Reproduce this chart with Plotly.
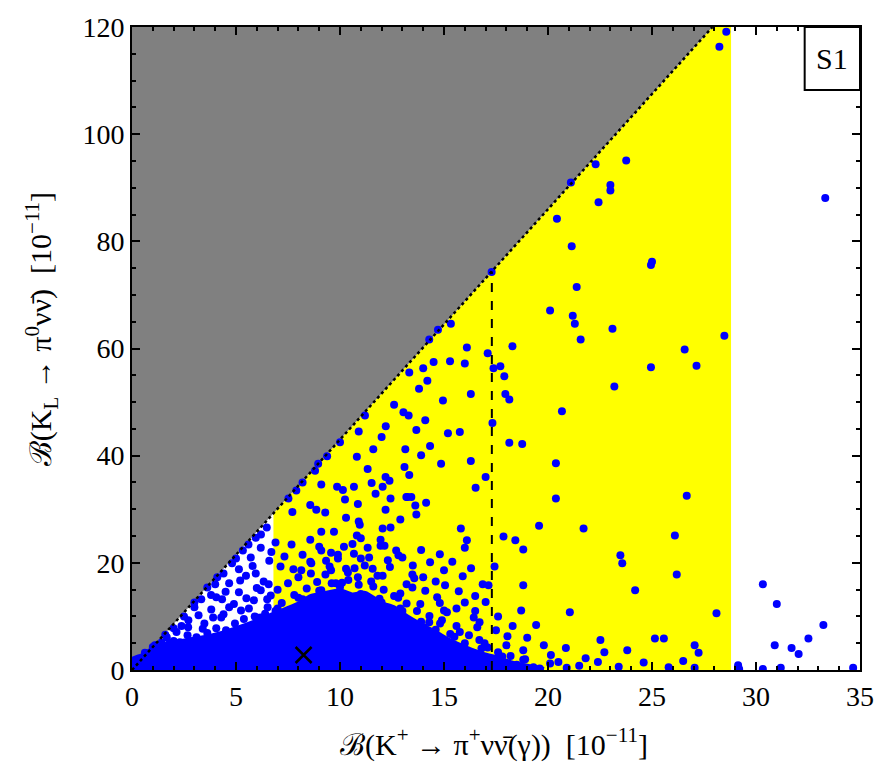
import plotly.graph_objects as go

# ---------------- data ----------------
x_range = [0, 35]
y_range = [0, 120]
x_ticks = [0, 5, 10, 15, 20, 25, 30, 35]
y_ticks = [0, 20, 40, 60, 80, 100, 120]

gn_slope = 4.3                 # Grossman-Nir bound  B(KL) < 4.3 B(K+)
band_x = [6.8, 28.8]           # experimental band on B(K+)
dashed_x = 17.3                # vertical dashed line
sm_point = [8.25, 2.8]         # Standard-Model point (cross)

# dense core of the scan (outline of the solid blue region)
blob_x = [0, 0, 0.5, 1.0, 2.0, 3.0, 4.0, 5.0, 6.0, 7.0, 8.0, 8.6, 9.2, 10.0, 10.6,
          11.2, 12.0, 12.6, 13.2, 14.0, 14.6, 15.2, 16.0, 16.8, 17.4, 18.2, 19.0, 19.8]
blob_y = [0, 1.8, 2.6, 3.8, 5.0, 5.6, 6.4, 7.6, 9.0, 10.6, 12.2, 13.6, 14.1, 14.7, 13.9,
          14.2, 12.3, 11.5, 9.9, 8.1, 6.9, 5.5, 4.1, 2.9, 2.3, 1.3, 0.6, 0]

# individual scan points
bkp = [28.57, 28.24, 33.33, 23.76, 22.29, 21.1, 23.0, 23.0, 22.43, 20.43, 21.14, 25.0,
       24.95, 21.38, 20.1, 21.19, 21.29, 23.1, 28.48, 21.57, 26.57, 27.14, 24.95, 23.19,
       20.67, 20.38, 26.67, 20.38, 17.29, 15.33, 14.71, 14.29, 16.1, 18.29, 17.1, 15.29,
       16.0, 14.0, 13.33, 17.38, 17.71, 17.9, 16.29, 17.95, 18.14, 14.95, 13.05, 14.1,
       13.67, 15.19, 15.76, 17.33, 13.14, 14.33, 13.9, 18.14, 18.76, 13.1, 13.33, 14.86,
       16.29, 17.0, 16.52, 13.24, 15.81, 16.1, 16.0, 17.86, 15.0, 17.43, 15.05, 15.71,
       16.86, 17.14, 16.0, 15.0, 16.43, 18.05, 19.57, 21.71, 18.43, 24.19, 23.48, 23.57,
       26.1, 26.19, 21.05, 22.52, 23.81, 25.14, 25.57, 27.05, 28.1, 20.14, 21.81, 20.86,
       19.43, 18.71, 22.71, 18.81, 27.24, 27.05, 30.33, 31.0, 33.24, 32.52, 30.9, 31.71,
       32.05, 29.14, 31.19, 30.33, 34.67, 29.19,
       9.38, 10.81, 8.95, 11.33, 12.19, 12.38, 9.1, 9.86, 10.67, 11.52, 12.05, 10.14,
       11.71, 12.43, 13.19, 13.43, 10.24, 10.86, 7.52, 8.57, 8.86, 9.29, 7.71, 12.19,
       13.62, 14.14, 13.67, 10.29, 10.9, 10.95, 12.9, 12.05, 12.43, 9.1, 9.71, 10.81,
       8.57, 6.9, 7.67, 11.95, 12.14, 11.95, 9.1, 9.57, 10.19, 10.67, 11.33, 12.81,
       13.0, 7.33, 8.57, 8.62, 9.33, 9.9, 11.0, 11.19, 14.33, 7.14, 7.76, 8.14, 9.57,
       10.29, 10.38, 11.57, 12.05, 10.86, 13.48, 13.57, 14.0, 13.48, 12.9, 14.67, 13.86,
       16.71, 15.14, 14.81, 14.29, 15.76, 16.95, 16.43, 18.81, 18.81, 18.81,
       6.48, 5.95, 6.19, 5.33, 5.71, 4.81, 5.14, 5.95, 5.48, 6.33, 6.57, 4.1, 3.62,
       4.67, 5.14, 5.86, 6.19, 4.05, 4.33, 3.33, 3.0, 3.81, 4.67, 5.24, 4.29, 5.38,
       6.19, 2.71, 3.48, 2.38, 4.05, 4.52, 2.14, 2.67, 1.67, 1.43, 1.0, 1.81, 0.62,
       3.1, 3.62, 4.95, 5.62, 6.52, 6.67,
       10.0, 10.9, 11.6, 12.2, 12.6, 13.3, 11.2, 13.8, 12.0, 14.5, 14.2, 8.8, 7.9, 8.2,
       8.0, 9.0, 10.0, 11.0, 12.0, 13.0, 7.0, 6.0, 14.0, 15.5, 16.8, 17.8, 18.5, 19.3,
       20.1, 2.0, 3.0, 1.2, 9.6, 11.6, 12.8,
       7.2, 7.8, 8.4, 8.9, 9.3, 9.8, 10.4, 10.9, 11.5, 12.1, 12.6, 13.2, 13.7, 14.3,
       14.9, 15.6, 16.2, 16.7, 17.1, 17.6, 18.2, 18.9, 6.4, 5.9, 6.9, 8.2, 9.1, 10.1,
       11.9, 12.9, 13.9, 14.6, 15.3, 16.0, 8.6, 9.5, 10.7, 11.8, 12.4, 13.2, 14.1, 14.8,
       15.6, 16.5, 7.5, 8.0, 9.9, 10.6, 11.4, 12.7, 13.5, 14.6, 15.9, 16.5, 9.0, 8.2,
       7.0, 6.5, 11.0, 12.3, 13.9, 14.8, 15.4, 16.3, 17.0, 17.6, 18.3, 19.0, 19.8, 20.5,
       21.5, 22.4, 23.4, 24.6, 25.8, 26.5, 19.6, 20.9, 17.5, 18.0, 16.6,
       0.3, 0.8, 1.2, 1.9, 2.3, 2.9, 3.4, 3.9, 4.4, 4.9, 5.5, 6.0, 5.2, 4.5, 3.2, 2.7,
       2.0, 3.8, 4.4, 5.8, 6.6, 6.2, 5.6, 6.7, 5.0, 4.0, 3.0, 2.5, 1.6, 1.1, 6.0, 5.0,
       4.2, 3.3, 2.2]
bkl = [119.1, 116.3, 88.1, 95.1, 94.4, 91.0, 90.5, 89.5, 87.3, 84.2, 79.1, 76.2,
       75.6, 71.5, 67.1, 66.1, 64.6, 63.7, 62.4, 61.7, 59.8, 56.8, 56.5, 52.9,
       48.3, 38.6, 32.5, 32.0, 74.3, 64.6, 63.5, 61.7, 60.2, 60.4, 59.1, 57.6,
       57.2, 56.3, 55.5, 56.3, 56.7, 54.8, 51.5, 51.5, 50.5, 50.3, 48.1, 46.6,
       44.8, 44.2, 44.4, 46.1, 41.2, 41.8, 40.1, 42.4, 42.2, 37.9, 36.4, 38.5,
       39.0, 36.0, 34.0, 32.3, 26.4, 24.2, 22.8, 24.9, 18.6, 19.3, 15.8, 14.7,
       16.0, 15.8, 12.6, 11.1, 9.8, 6.3, 26.9, 26.4, 24.2, 14.9, 21.4, 19.9,
       25.1, 17.8, 10.8, 5.6, 3.7, 5.9, 5.9, 4.6, 10.6, 2.8, 2.2, 4.1,
       8.4, 11.1, 3.3, 1.9, 3.2, 0.4, 16.0, 12.3, 8.4, 5.9, 4.6, 4.1,
       3.0, 0.9, 0.4, 0.2, 0.4, 0.2,
       39.9, 39.8, 38.5, 37.5, 36.0, 35.3, 34.6, 34.2, 34.2, 34.9, 34.2, 33.6,
       32.9, 32.0, 32.3, 32.3, 31.8, 31.0, 32.0, 30.8, 29.9, 29.4, 29.5, 29.9,
       30.7, 31.2, 29.0, 28.4, 27.7, 27.1, 28.1, 26.4, 26.6, 25.8, 25.8, 25.1,
       24.3, 23.8, 23.4, 24.3, 23.2, 23.2, 22.3, 21.9, 23.0, 21.7, 22.8, 21.4,
       21.0, 21.2, 20.2, 19.9, 20.4, 20.8, 20.8, 19.5, 20.1, 19.3, 18.8, 18.6, 18.6,
       18.9, 18.2, 18.9, 17.6, 17.3, 17.8, 17.1, 17.3, 15.4, 14.3, 13.6, 12.3,
       8.9, 10.8, 8.7, 8.9, 7.1, 5.0, 3.2, 3.7, 15.8, 22.5,
       26.6, 24.7, 22.8, 22.3, 21.0, 19.9, 18.8, 18.0, 17.6, 16.5, 16.0, 17.3, 15.4,
       16.2, 14.5, 13.0, 14.9, 13.6, 13.2, 13.2, 11.7, 11.3, 11.7, 11.1, 9.8, 9.5,
       9.8, 9.3, 8.7, 8.2, 7.8, 7.4, 7.1, 6.5, 6.1, 5.2, 4.3, 5.0, 3.2,
       6.1, 6.9, 8.7, 11.5, 11.7, 13.9,
       42.5, 44.5, 41.2, 45.5, 49.5, 47.5, 47.5, 52.5, 43.5, 57.5, 54.0, 37.2, 33.5, 35.0,
       13.5, 14.8, 15.5, 14.2, 12.6, 11.0, 11.5, 9.8, 8.0, 6.2, 4.0, 2.5, 1.0, 0.5,
       1.2, 5.4, 5.1, 4.6, 16.2, 15.6, 13.5,
       12.5, 14.0, 15.2, 16.4, 17.8, 16.2, 16.8, 15.9, 16.5, 15.0, 13.8, 12.4, 11.0, 10.1,
       9.3, 8.2, 6.5, 5.6, 4.2, 3.3, 2.6, 2.0, 10.5, 10.0, 11.0, 13.2, 14.9, 16.3,
       13.3, 11.5, 9.0, 7.5, 6.7, 5.0, 18.0, 19.3, 19.0, 17.6, 19.2, 16.0, 14.8, 12.5,
       11.5, 11.0, 16.2, 17.3, 21.5, 23.5, 21.0, 22.3, 19.5, 16.5, 17.5, 13.8, 23.0, 21.5,
       15.0, 13.2, 24.6, 20.5, 22.4, 21.6, 20.2, 19.0, 12.7, 10.0, 8.2, 6.0, 4.6, 1.5,
       0.8, 1.5, 0.6, 1.4, 0.5, 1.7, 0.3, 0.4, 7.4, 4.6, 8.0,
       1.5, 2.2, 3.8, 4.3, 5.2, 5.4, 7.7, 9.8, 10.4, 12.3, 13.4, 15.3, 16.7, 14.6, 10.2, 8.0,
       7.8, 14.0, 18.0, 19.4, 20.4, 25.3, 23.4, 22.0, 20.8, 16.0, 12.6, 10.0, 6.6, 4.6, 6.5, 6.4,
       5.8, 5.0, 3.6]

# ---------------- figure ----------------
FONT = "Liberation Serif"
fig = go.Figure()

y_top = y_range[1]
x_gn_top = y_top / gn_slope

# yellow band below the GN bound
fig.add_trace(go.Scatter(
    x=[band_x[0], band_x[0], x_gn_top, band_x[1], band_x[1]],
    y=[0, band_x[0] * gn_slope, y_top, y_top, 0],
    fill="toself", fillcolor="#FFFF00", mode="none", hoverinfo="skip", showlegend=False))

# gray excluded region above the GN bound
fig.add_trace(go.Scatter(
    x=[0, 0, x_gn_top], y=[0, y_top, y_top],
    fill="toself", fillcolor="#808080", mode="none", hoverinfo="skip", showlegend=False))

# dense core
fig.add_trace(go.Scatter(
    x=blob_x, y=blob_y, fill="toself", fillcolor="#0000FF", mode="lines",
    line=dict(color="#0000FF", width=6, shape="spline", smoothing=0.6),
    hoverinfo="skip", showlegend=False))

# scan points
fig.add_trace(go.Scatter(
    x=bkp, y=bkl, mode="markers",
    marker=dict(color="#0000FF", size=8, line=dict(width=0)), showlegend=False))

# GN bound line (dotted)
fig.add_trace(go.Scatter(
    x=[0, x_gn_top], y=[0, y_top], mode="lines",
    line=dict(color="black", width=2.5, dash="dot"), showlegend=False))

# vertical dashed line
fig.add_trace(go.Scatter(
    x=[dashed_x, dashed_x], y=[0, dashed_x * gn_slope], mode="lines",
    line=dict(color="black", width=2, dash="dash"), showlegend=False))

# SM cross
fig.add_trace(go.Scatter(
    x=[sm_point[0]], y=[sm_point[1]], mode="markers",
    marker=dict(symbol="x-thin", size=16, line=dict(color="black", width=2.5)),
    showlegend=False))

axis_common = dict(
    showgrid=False, zeroline=False, showline=True, linecolor="black", linewidth=2,
    mirror="allticks", ticks="inside", ticklen=8, tickwidth=2, tickcolor="black",
    tickfont=dict(family=FONT, size=28, color="black"))

fig.update_xaxes(range=x_range, tickvals=x_ticks, ticktext=[str(v) for v in x_ticks],
                 minor=dict(dtick=1, ticks="inside", ticklen=4, tickwidth=1.5,
                            tickcolor="black", showgrid=False),
                 **axis_common)
fig.update_yaxes(range=y_range, tickvals=y_ticks, ticktext=[str(v) for v in y_ticks],
                 minor=dict(dtick=5, ticks="inside", ticklen=4, tickwidth=1.5,
                            tickcolor="black", showgrid=False),
                 **axis_common)

fig.add_annotation(
    text="ℬ(K<sup>+</sup> → π<sup>+</sup>νν̄(γ))  [10<sup>−11</sup>]",
    xref="paper", yref="paper", x=0.497, y=-0.112, showarrow=False,
    font=dict(family=FONT, size=30, color="black"), xanchor="center", yanchor="middle")
fig.add_annotation(
    text="ℬ(K<sub>L</sub> → π<sup>0</sup>νν̄)  [10<sup>−11</sup>]",
    xref="paper", yref="paper", x=-0.125, y=0.53, showarrow=False, textangle=-90,
    font=dict(family=FONT, size=30, color="black"), xanchor="center", yanchor="middle")

# S1 label box
fig.add_shape(type="rect", xref="paper", yref="paper", x0=0.924, x1=1.0, y0=0.902, y1=1.0,
              line=dict(color="black", width=2), fillcolor="white", layer="above")
fig.add_annotation(text="S1", xref="paper", yref="paper", x=0.962, y=0.951, showarrow=False,
                   font=dict(family=FONT, size=30, color="black"),
                   xanchor="center", yanchor="middle")

fig.update_layout(
    width=886, height=765,
    margin=dict(l=132, r=19, t=24, b=95),
    plot_bgcolor="white", paper_bgcolor="white",
    showlegend=False)

fig.write_html("out.html")
